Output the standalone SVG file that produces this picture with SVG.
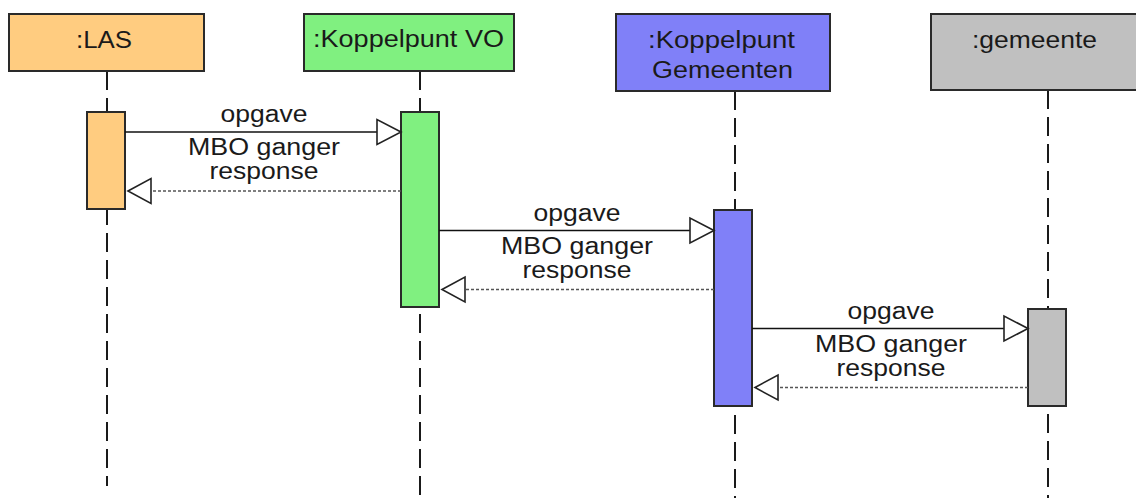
<svg xmlns="http://www.w3.org/2000/svg" width="1136" height="498" viewBox="0 0 1136 498">
<defs>
<style>
.box{stroke:#2a2a2a;stroke-width:2}
.hdr{font-family:"Liberation Sans",Arial,sans-serif;font-size:23px;fill:#1a1a1a;text-anchor:middle}
.msg{font-family:"Liberation Sans",Arial,sans-serif;font-size:23.5px;fill:#1a1a1a;text-anchor:middle}
.life{stroke:#1a1a1a;stroke-width:2;stroke-dasharray:19 8;fill:none}
.call{stroke:#111;stroke-width:1.6;fill:none}
.ret{stroke:#555;stroke-width:1.3;stroke-dasharray:3 2;fill:none}
.head{fill:#fff;stroke:#222;stroke-width:1.6}
.las{fill:#FFCC80}
.vo{fill:#80F080}
.kg{fill:#8080F8}
.gm{fill:#C0C0C0}
</style>
</defs>
<rect width="1136" height="498" fill="#fff"/>

<g id="lifelines">
<line class="life" x1="107" y1="71" x2="107" y2="486"/>
<line class="life" x1="420" y1="71" x2="420" y2="498"/>
<line class="life" x1="735" y1="91" x2="735" y2="498"/>
<line class="life" x1="1048" y1="90" x2="1048" y2="498"/>
</g>

<g id="las">
<rect class="box las" x="9" y="14" width="195" height="57"/>
<text class="hdr" x="104" y="48" textLength="56" lengthAdjust="spacingAndGlyphs">:LAS</text>
<rect class="box las" x="87" y="112" width="38" height="97"/>
</g>

<g id="koppelpunt-vo">
<rect class="box vo" x="304" y="14" width="210" height="57"/>
<text class="hdr" x="408.5" y="47" textLength="191" lengthAdjust="spacingAndGlyphs">:Koppelpunt VO</text>
<rect class="box vo" x="401" y="112" width="38" height="195"/>
</g>

<g id="koppelpunt-gemeenten">
<rect class="box kg" x="616" y="14" width="214" height="77"/>
<text class="hdr" x="721.5" y="48" textLength="147" lengthAdjust="spacingAndGlyphs">:Koppelpunt</text>
<text class="hdr" x="722.5" y="78" textLength="141" lengthAdjust="spacingAndGlyphs">Gemeenten</text>
<rect class="box kg" x="714" y="210" width="38" height="196"/>
</g>

<g id="gemeente">
<rect class="box gm" x="931" y="14" width="210" height="76"/>
<text class="hdr" x="1034.5" y="48" textLength="125" lengthAdjust="spacingAndGlyphs">:gemeente</text>
<rect class="box gm" x="1028" y="309" width="38" height="97"/>
</g>

<g id="connectors">
<line class="call" x1="125" y1="132" x2="378" y2="132"/>
<polygon class="head" points="401,132 377,119.5 377,144.5"/>
<line class="ret" x1="401" y1="191" x2="151" y2="191"/>
<polygon class="head" points="128,191 151,178.5 151,203.5"/>
<text class="msg" x="264" y="122" textLength="87" lengthAdjust="spacingAndGlyphs">opgave</text>
<text class="msg" x="264" y="155" textLength="152" lengthAdjust="spacingAndGlyphs">MBO ganger</text>
<text class="msg" x="264" y="179" textLength="109" lengthAdjust="spacingAndGlyphs">response</text>

<line class="call" x1="439" y1="230.5" x2="691" y2="230.5"/>
<polygon class="head" points="714,230.5 690,218 690,243"/>
<line class="ret" x1="714" y1="289.5" x2="465" y2="289.5"/>
<polygon class="head" points="442,289.5 465,277 465,302"/>
<text class="msg" x="577" y="220.5" textLength="87" lengthAdjust="spacingAndGlyphs">opgave</text>
<text class="msg" x="577" y="253.5" textLength="152" lengthAdjust="spacingAndGlyphs">MBO ganger</text>
<text class="msg" x="577" y="277.5" textLength="109" lengthAdjust="spacingAndGlyphs">response</text>

<line class="call" x1="752" y1="328.5" x2="1005" y2="328.5"/>
<polygon class="head" points="1028,328.5 1004,316 1004,341"/>
<line class="ret" x1="1028" y1="387.5" x2="778" y2="387.5"/>
<polygon class="head" points="755,387.5 778,375 778,400"/>
<text class="msg" x="891" y="318.5" textLength="87" lengthAdjust="spacingAndGlyphs">opgave</text>
<text class="msg" x="891" y="351.5" textLength="152" lengthAdjust="spacingAndGlyphs">MBO ganger</text>
<text class="msg" x="891" y="375.5" textLength="109" lengthAdjust="spacingAndGlyphs">response</text>
</g>
</svg>
